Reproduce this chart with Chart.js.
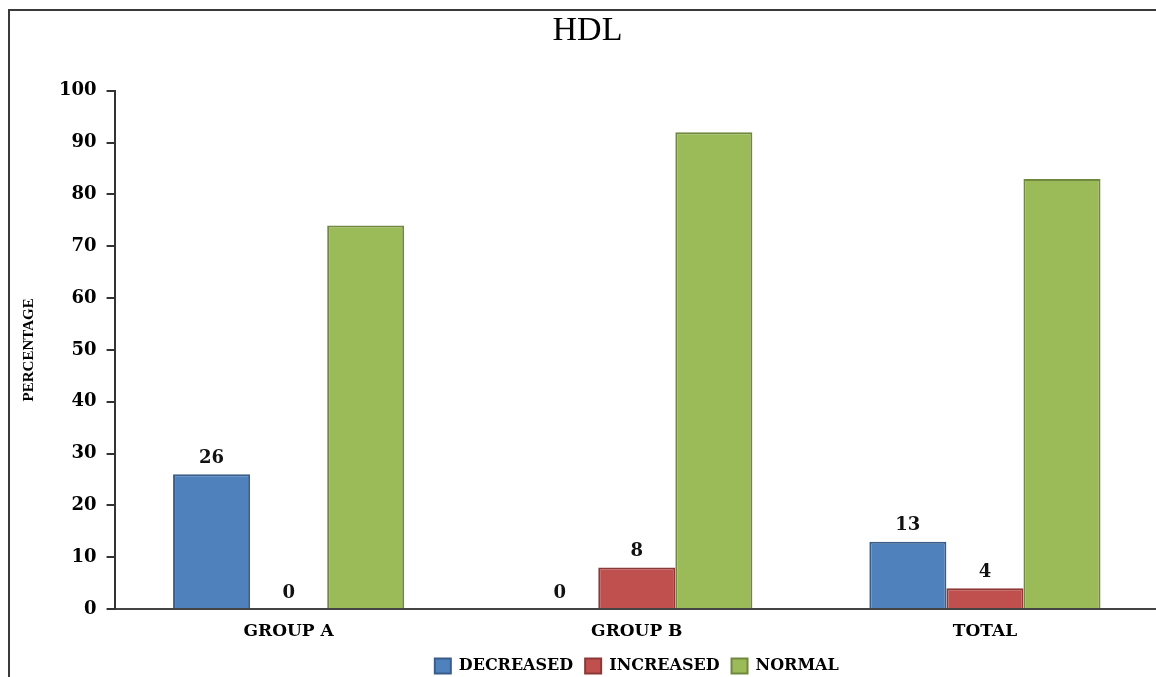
<!DOCTYPE html>
<html>
<head>
<meta charset="utf-8">
<script src="https://cdn.jsdelivr.net/npm/chart.js@4"></script>
<style>
  html, body { margin: 0; padding: 0; background: #fff; overflow: hidden; }
  #frame {
    position: absolute; left: 8px; top: 9px; width: 1200px; height: 700px;
    border-top: 2px solid #3a3a3a; border-left: 2px solid #3a3a3a;
  }
  #wrap { position: absolute; left: 0; top: 0; width: 1190px; height: 677px; }
</style>
</head>
<body>
<div id="frame"></div>
<div id="wrap"><canvas id="hdlChart"></canvas></div>
<script>
const categories = ["GROUP A", "GROUP B", "TOTAL"];
const decreased = [26, 0, 13];
const increased = [0, 8, 4];
const normal = [74, 92, 83];

const serifBold = "'DejaVu Serif', serif";

// value labels above the DECREASED and INCREASED bars
const barLabels = {
  id: "barLabels",
  afterDatasetsDraw(chart) {
    const ctx = chart.ctx;
    ctx.save();
    ctx.font = "bold 18px " + serifBold;
    ctx.fillStyle = "#111";
    ctx.textAlign = "center";
    ctx.textBaseline = "bottom";
    [0, 1].forEach((i) => {
      const meta = chart.getDatasetMeta(i);
      meta.data.forEach((bar, j) => {
        ctx.fillText(chart.data.datasets[i].data[j], bar.x, bar.y - 7);
      });
    });
    ctx.restore();
  },
};

new Chart(document.getElementById("hdlChart").getContext("2d"), {
  type: "bar",
  data: {
    labels: categories,
    datasets: [
      {
        label: "DECREASED",
        data: decreased,
        backgroundColor: "#4F81BD",
        borderColor: "#385D8A",
        borderWidth: 2,
      },
      {
        label: "INCREASED",
        data: increased,
        backgroundColor: "#C0504D",
        borderColor: "#8C3836",
        borderWidth: 2,
      },
      {
        label: "NORMAL",
        data: normal,
        backgroundColor: "#9BBB59",
        borderColor: "#71893F",
        borderWidth: 2,
      },
    ],
  },
  options: {
    responsive: true,
    maintainAspectRatio: false,
    animation: false,
    categoryPercentage: 0.664,
    barPercentage: 1,
    layout: { padding: { left: 16, right: 31, top: 0, bottom: -7 } },
    plugins: {
      title: {
        display: true,
        text: "HDL",
        color: "#000",
        font: { family: "'Liberation Serif', serif", size: 34, weight: "normal" },
        padding: { top: 11, bottom: 39 },
      },
      legend: {
        position: "bottom",
        fullSize: false,
        labels: {
          color: "#000",
          font: { family: serifBold, size: 16, weight: "bold", lineHeight: 1 },
          boxWidth: 16,
          boxHeight: 15,
          padding: 12,
        },
      },
      tooltip: { enabled: false },
    },
    scales: {
      x: {
        grid: { display: false },
        border: { display: true, color: "#444", width: 2 },
        ticks: {
          color: "#000",
          font: { family: serifBold, size: 17, weight: "bold", lineHeight: 1 },
          padding: 6,
        },
      },
      y: {
        min: 0,
        max: 100,
        ticks: {
          stepSize: 10,
          color: "#000",
          font: { family: serifBold, size: 18, weight: "bold" },
          padding: 10,
        },
        grid: {
          drawOnChartArea: false,
          drawTicks: true,
          tickLength: 8,
          color: "#333",
          lineWidth: 2,
        },
        border: { display: true, color: "#333", width: 2 },
        title: {
          display: true,
          text: "PERCENTAGE",
          color: "#000",
          font: { family: "'Liberation Serif', serif", size: 15, weight: "bold" },
          padding: { top: 4, bottom: 11 },
        },
      },
    },
  },
  plugins: [barLabels],
});
</script>
</body>
</html>
